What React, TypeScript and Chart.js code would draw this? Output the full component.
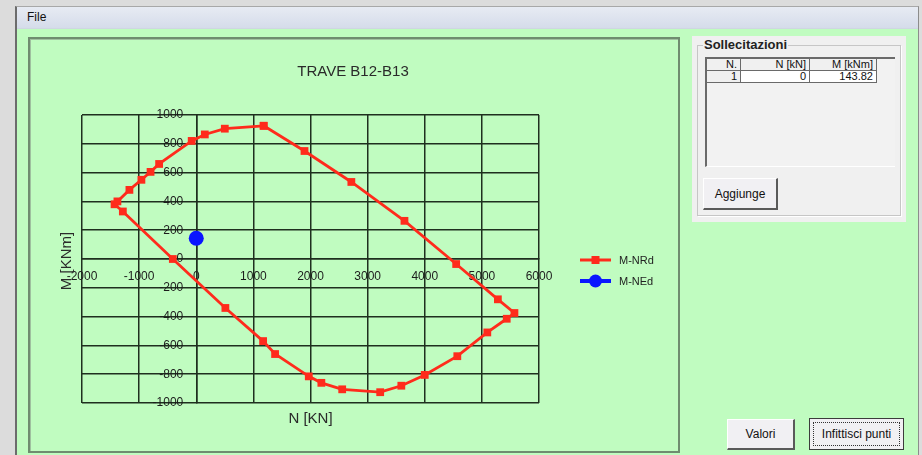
import React, { useEffect, useRef } from "react";
import { Chart, registerables } from "chart.js";

Chart.register(...registerables);

// ---- chart text ----
const chartTitle = "TRAVE B12-B13";
const xAxisTitle = "N [KN]";
const yAxisTitle = "M [KNm]";

// ---- resisting domain M-NRd (closed outline, first point repeated at the end) ----
const resistN = [
  1180, 1895, 2715, 3645, 4550, 5280, 5570, 5435, 5095, 4570, 4000, 3590, 3220,
  2555, 2190, 1970, 1380, 1170, 510, -410, -1285, -1430, -1380, -1170, -960,
  -800, -650, -80, 150, 500, 1180,
];
const resistM = [
  925, 750, 535, 265, -35, -280, -375, -415, -510, -675, -805, -880, -925, -905,
  -860, -815, -660, -570, -340, 0, 330, 380, 400, 480, 550, 605, 660, 820, 865,
  905, 925,
];

// ---- design action M-NEd ----
const actionN = [0];
const actionM = [143.82];

// ---- axis ticks ----
const nTicks = [-2000, -1000, 0, 1000, 2000, 3000, 4000, 5000, 6000];
const mTicks = [-1000, -800, -600, -400, -200, 0, 200, 400, 600, 800, 1000];

const RED = "#ff2b1c";
const BLUE = "#0a16ff";
const GRID = "#1f2f1f";
const TICK_COLOR = "#1c1c1c";
const FONT = "'Liberation Sans', Arial, sans-serif";

// M tick labels sit just left of the vertical axis that crosses at N = 0
const mTickLabels = {
  id: "mTickLabels",
  beforeDatasetsDraw(chart: any) {
    const { ctx, scales } = chart;
    const xAt0 = scales.x.getPixelForValue(0);
    ctx.save();
    ctx.fillStyle = TICK_COLOR;
    ctx.font = `12px ${FONT}`;
    ctx.textAlign = "right";
    ctx.textBaseline = "middle";
    scales.y.ticks.forEach((t: any) => {
      ctx.fillText(String(t.value), xAt0 - 13, scales.y.getPixelForValue(t.value));
    });
    ctx.restore();
  },
};

// Chart title, axis titles and the legend box, drawn on the canvas
const panelText = {
  id: "panelText",
  afterDraw(chart: any) {
    const { ctx, chartArea } = chart;
    ctx.save();
    ctx.fillStyle = "#2a2a2a";
    ctx.textAlign = "center";
    ctx.textBaseline = "middle";
    ctx.font = `15px ${FONT}`;
    ctx.fillText(chartTitle, 353, 72);
    ctx.fillText(xAxisTitle, (chartArea.left + chartArea.right) / 2, 419);
    ctx.save();
    ctx.translate(67, (chartArea.top + chartArea.bottom) / 2 + 2);
    ctx.rotate(-Math.PI / 2);
    ctx.fillText(yAxisTitle, 0, 0);
    ctx.restore();

    // legend
    const rows = [260, 281];
    chart.data.datasets.forEach((ds: any, i: number) => {
      const y = rows[i];
      ctx.strokeStyle = ds.borderColor;
      ctx.lineWidth = i === 0 ? 3 : 4;
      ctx.beginPath();
      ctx.moveTo(580, y);
      ctx.lineTo(611, y);
      ctx.stroke();
      ctx.fillStyle = ds.pointBackgroundColor;
      if (ds.pointStyle === "rect") {
        ctx.fillRect(591.5, y - 4, 8, 8);
      } else {
        ctx.beginPath();
        ctx.arc(595.5, y, 6.5, 0, Math.PI * 2);
        ctx.fill();
      }
      ctx.fillStyle = "#222";
      ctx.textAlign = "left";
      ctx.font = `11px ${FONT}`;
      ctx.fillText(ds.label, 619, y + 0.5);
    });
    ctx.restore();
  },
};

const btnBase: React.CSSProperties = {
  position: "absolute",
  background: "#f1f0f3",
  borderTop: "1px solid #ffffff",
  borderLeft: "1px solid #ffffff",
  borderRight: "2px solid #5a5a5a",
  borderBottom: "2px solid #5a5a5a",
  boxSizing: "border-box",
  display: "flex",
  alignItems: "center",
  justifyContent: "center",
  fontSize: 12,
  color: "#111",
};

const cell: React.CSSProperties = {
  position: "absolute",
  boxSizing: "border-box",
  fontSize: 11,
  color: "#111",
  textAlign: "right",
  paddingRight: 3,
  lineHeight: "11px",
  borderRight: "1px solid #6a6a6a",
  borderBottom: "1px solid #6a6a6a",
};

export default function App() {
  const canvasRef = useRef<HTMLCanvasElement | null>(null);

  useEffect(() => {
    const canvas = canvasRef.current;
    if (!canvas) return;
    const tickFont = { family: FONT, size: 12 };
    const chart = new Chart(canvas, {
      type: "scatter",
      data: {
        datasets: [
          {
            label: "M-NRd",
            data: resistN.map((n, i) => ({ x: n, y: resistM[i] })),
            showLine: true,
            borderColor: RED,
            backgroundColor: RED,
            borderWidth: 2.8,
            pointStyle: "rect",
            pointRadius: 5.5,
            pointBorderWidth: 0,
            pointBackgroundColor: RED,
          },
          {
            label: "M-NEd",
            data: actionN.map((n, i) => ({ x: n, y: actionM[i] })),
            showLine: false,
            borderColor: BLUE,
            backgroundColor: BLUE,
            pointStyle: "circle",
            pointRadius: 7.5,
            pointBorderWidth: 0,
            pointBackgroundColor: BLUE,
          },
        ],
      },
      options: {
        responsive: false,
        animation: false,
        devicePixelRatio: 1,
        layout: { padding: { left: 82, top: 115, right: 383, bottom: 52 } },
        plugins: {
          legend: { display: false },
          title: { display: false },
          tooltip: { enabled: false },
        },
        scales: {
          x: {
            type: "linear",
            min: nTicks[0],
            max: nTicks[nTicks.length - 1],
            position: { y: 0 },
            afterBuildTicks: (s: any) => {
              s.ticks = nTicks.map((v) => ({ value: v }));
            },
            ticks: {
              autoSkip: false,
              maxRotation: 0,
              padding: 10,
              color: TICK_COLOR,
              font: tickFont,
              callback: (v: any) => String(v),
            },
            grid: { color: GRID, lineWidth: 1.5, drawTicks: false },
            border: { color: GRID, width: 1.5 },
          },
          y: {
            type: "linear",
            min: mTicks[0],
            max: mTicks[mTicks.length - 1],
            position: { x: 0 },
            afterBuildTicks: (s: any) => {
              s.ticks = mTicks.map((v) => ({ value: v }));
            },
            ticks: { display: false },
            grid: { color: GRID, lineWidth: 1.5, drawTicks: false },
            border: { color: GRID, width: 1.5 },
          },
        },
      },
      plugins: [mTickLabels, panelText],
    } as any);
    return () => chart.destroy();
  }, []);

  return (
    <div
      style={{
        position: "fixed",
        left: 0,
        top: 0,
        width: 922,
        height: 455,
        overflow: "hidden",
        background: "#dcdcdc",
        fontFamily: FONT,
      }}
    >
      {/* window frame */}
      <div
        style={{
          position: "absolute",
          left: 15,
          top: 6,
          width: 904,
          height: 460,
          boxSizing: "border-box",
          borderLeft: "2px solid #6c6c6c",
          borderTop: "1px solid #a8a8a8",
          borderRight: "1px solid #8c8c8c",
          background: "rgb(192,252,192)",
        }}
      >
        {/* menu bar */}
        <div
          style={{
            position: "absolute",
            left: 0,
            top: 0,
            right: 0,
            height: 21,
            background: "linear-gradient(#e7ebf3, #d5dcea)",
            borderBottom: "1px solid #cfd6e2",
            fontSize: 12,
            color: "#111",
            lineHeight: "21px",
            paddingLeft: 10,
          }}
        >
          File
        </div>
      </div>

      {/* chart panel */}
      <div
        style={{
          position: "absolute",
          left: 28,
          top: 37,
          width: 652,
          height: 416,
          boxSizing: "border-box",
          border: "2px solid #6f8c6f",
          boxShadow: "inset 1px 1px 0 #9fc09f",
        }}
      />

      {/* forces panel */}
      <div
        style={{
          position: "absolute",
          left: 692,
          top: 36,
          width: 214,
          height: 186,
          background: "#f0f0f0",
        }}
      >
        <div
          style={{
            position: "absolute",
            left: 5,
            top: 9,
            width: 204,
            height: 171,
            boxSizing: "border-box",
            border: "1px solid #c6c6c6",
            boxShadow: "1px 1px 0 #ffffff",
          }}
        />
        <div
          style={{
            position: "absolute",
            left: 11,
            top: 2,
            padding: "0 1px",
            background: "#f0f0f0",
            fontSize: 13,
            fontWeight: "bold",
            color: "#222",
            lineHeight: "14px",
          }}
        >
          Sollecitazioni
        </div>
        {/* grid */}
        <div
          style={{
            position: "absolute",
            left: 13,
            top: 21,
            width: 190,
            height: 110,
            boxSizing: "border-box",
            background: "#f2f2f2",
            borderLeft: "2px solid #6a6a6a",
            borderTop: "2px solid #6a6a6a",
            borderBottom: "1px solid #ffffff",
          }}
        >
          <div style={{ ...cell, left: 0, top: 0, width: 34, height: 12, background: "#f0f0f0" }}>N.</div>
          <div style={{ ...cell, left: 34, top: 0, width: 69, height: 12, background: "#f0f0f0" }}>N [kN]</div>
          <div style={{ ...cell, left: 103, top: 0, width: 67, height: 12, background: "#f0f0f0" }}>M [kNm]</div>
          <div style={{ ...cell, left: 0, top: 12, width: 34, height: 12, background: "#f0f0f0" }}>1</div>
          <div style={{ ...cell, left: 34, top: 12, width: 69, height: 12, background: "#ffffff" }}>{actionN[0]}</div>
          <div style={{ ...cell, left: 103, top: 12, width: 67, height: 12, background: "#ffffff" }}>{actionM[0]}</div>
        </div>
        <div style={{ ...btnBase, left: 11, top: 142, width: 75, height: 32 }}>Aggiunge</div>
      </div>

      {/* bottom buttons */}
      <div style={{ ...btnBase, left: 727, top: 419, width: 68, height: 31 }}>Valori</div>
      <div
        style={{
          ...btnBase,
          left: 809,
          top: 418,
          width: 95,
          height: 32,
          border: "1px solid #3c3c3c",
          borderRight: "2px solid #3c3c3c",
          borderBottom: "2px solid #3c3c3c",
        }}
      >
        <div
          style={{
            position: "absolute",
            left: 3,
            top: 3,
            right: 3,
            bottom: 3,
            border: "1px dotted #333",
          }}
        />
        Infittisci punti
      </div>

      <canvas
        ref={canvasRef}
        width={922}
        height={455}
        style={{ position: "absolute", left: 0, top: 0, width: 922, height: 455, pointerEvents: "none" }}
      />
    </div>
  );
}
